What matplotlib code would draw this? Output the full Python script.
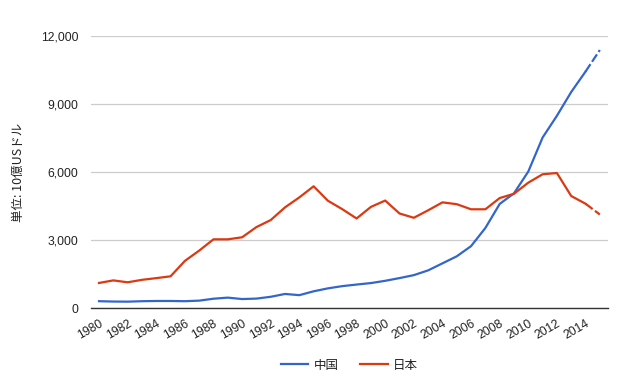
import matplotlib
matplotlib.use("Agg")
import matplotlib.pyplot as plt
from matplotlib.lines import Line2D

plt.rcParams['font.family'] = ['Liberation Sans', 'Noto Sans CJK JP', 'DejaVu Sans']

years = list(range(1980, 2016))
china = [300, 285, 280, 300, 310, 310, 300, 325, 410, 458, 395, 415, 495, 620, 567, 737,
         867, 965, 1035, 1100, 1200, 1320, 1450, 1660, 1970, 2280, 2730, 3530, 4590, 5060,
         6020, 7520, 8480, 9530, 10430, 11380]
japan = [1105, 1218, 1134, 1243, 1318, 1398, 2078, 2532, 3030, 3030, 3120, 3570, 3880, 4440,
         4880, 5370, 4730, 4360, 3950, 4460, 4740, 4170, 3980, 4310, 4660, 4580, 4355, 4355,
         4850, 5040, 5530, 5900, 5954, 4940, 4600, 4124]
series_names = ['中国', '日本']
colors = ['#3366cc', '#dc3912']
yticks = [0, 3000, 6000, 9000, 12000]
xticks = list(range(1980, 2015, 2))
ylabel = '単位: 10億USドル'

fig = plt.figure(figsize=(6.25, 3.82), dpi=100)
ax = fig.add_axes([0.1456, 0.1937, 0.9728 - 0.1456, 0.9058 - 0.1937])

for vals, col in zip([china, japan], colors):
    ax.plot(years[:-1], vals[:-1], color=col, lw=1.6, solid_joinstyle='round', zorder=3)
    ax.plot(years[-2:], vals[-2:], color=col, lw=1.6, ls=(0, (4, 1.3)), zorder=3)

ax.set_xlim(1979.44, 2015.57)
ax.set_ylim(0, 12000)
ax.set_yticks(yticks)
ax.set_yticklabels([f'{v:,}' for v in yticks])
ax.set_xticks(xticks)
ax.set_xticklabels([str(x) for x in xticks], rotation=30, ha='right', va='top',
                   rotation_mode='anchor')
ax.tick_params(axis='both', length=0, labelsize=8.7, colors='#222222')
ax.tick_params(axis='y', pad=9)
ax.tick_params(axis='x', pad=7)
ax.grid(axis='y', color='#cccccc', lw=0.9)
ax.set_axisbelow(True)
for s in ['top', 'right', 'left']:
    ax.spines[s].set_visible(False)
ax.spines['bottom'].set_color('#333333')
ax.spines['bottom'].set_linewidth(1.0)
ax.spines['bottom'].set_zorder(4)

fig.text(0.029, (0.1937 + 0.9058) / 2, ylabel, rotation=90, ha='center', va='center',
         fontsize=9, color='#222222', family=['Noto Sans CJK JP', 'DejaVu Sans'])

handles = [Line2D([], [], color=c, lw=1.6) for c in colors]
fig.legend(handles, series_names, loc='center', bbox_to_anchor=(0.559, 0.0445), ncol=2,
           frameon=False, prop={'family': ['Noto Sans CJK JP', 'DejaVu Sans'], 'size': 9},
           handlelength=2.2, columnspacing=1.75, handletextpad=0.4, labelcolor='#222222')

fig.savefig('out.png', dpi=100)
